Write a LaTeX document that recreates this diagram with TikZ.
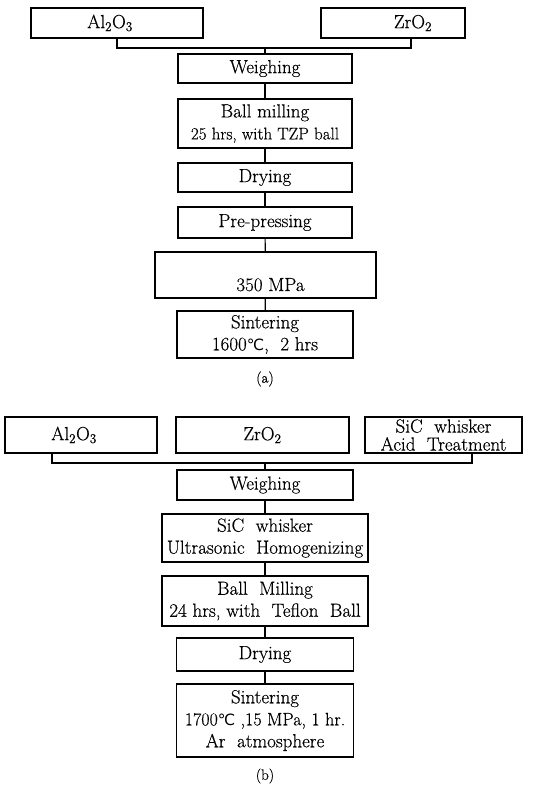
\documentclass[tikz,border=0pt]{standalone}
\usepackage{fontspec}
\setmainfont{Latin Modern Roman}[FakeBold=0.4]
\newfontfamily\symfont{DejaVu Sans}
\newcommand{\degC}{{\symfont\fontsize{15.5}{16}\selectfont ℃}}
\newcommand{\sm}{\fontsize{17}{21.5}\selectfont}
\newcommand{\md}{\fontsize{18}{21.5}\selectfont}
\begin{document}
\begin{tikzpicture}[x=1pt,y=-1pt,
  box/.style={draw,line width=1.1pt,inner sep=0pt,align=center,
    font=\fontsize{19}{22}\selectfont},
  link/.style={line width=1.1pt},
  figcap/.style={font=\fontsize{15}{17}\selectfont}]
\useasboundingbox (0,0) rectangle (533,785);
% ---------- (a) ----------
\node[box,minimum width=172,minimum height=30] (aal) at (117,23) {Al\textsubscript{2}O\textsubscript{3}\hspace*{14pt}};
\node[box,minimum width=144,minimum height=30] (azr) at (393,23) {\hspace*{40pt}ZrO\textsubscript{2}};
\node[box,minimum width=174,minimum height=29] (awe) at (265,68.5) {Weighing};
\node[box,minimum width=174,minimum height=49] (abm) at (265,123.5) {Ball\ milling\\{\sm 25 hrs, with TZP ball}};
\node[box,minimum width=174,minimum height=29] (adr) at (265,177.5) {Drying};
\node[box,minimum width=174,minimum height=31] (apr) at (265,222.5) {Pre-pressing};
\node[box,minimum width=221,minimum height=46,text height=33pt,text depth=1pt] (amp) at (265.5,275) {\hspace*{10pt}350 MPa};
\node[box,minimum width=176,minimum height=47] (asi) at (265,334.5) {Sintering\\1600\degC,\ \ 2 hrs};
\node[figcap] (alab) at (265,379) {(a)};
\coordinate (aj) at (265,48);
\draw[link] (aal.south) |- (aj) -| ([xshift=18pt]azr.south);
\draw[link] (aj) -- (awe.north);
\draw[link] (awe) -- (abm);
\draw[link] (abm) -- (adr);
\draw[link] (adr) -- (apr);
\draw[link] (apr) -- (amp);
\draw[link] (amp) -- (asi);
% ---------- (b) ----------
\node[box,minimum width=152,minimum height=36] (bal) at (81,435) {Al\textsubscript{2}O\textsubscript{3}\hspace*{14pt}};
\node[box,minimum width=173,minimum height=36] (bzr) at (262.5,435) {ZrO\textsubscript{2}};
\node[box,minimum width=157,minimum height=36] (bsi) at (443.5,435) {SiC\ \ whisker\\[-4pt]Acid\ \ Treatment};
\node[box,minimum width=176,minimum height=30] (bwe) at (265,485) {Weighing};
\node[box,minimum width=206,minimum height=48] (bus) at (265,538) {SiC\ \ whisker\\Ultrasonic\ \ Homogenizing};
\node[box,minimum width=206,minimum height=50] (bbm) at (265,601) {Ball\ \ Milling\\24 hrs,\ with\ \ Teflon\ \ Ball};
\node[box,minimum width=177,minimum height=73] (bsn) at (265,720.5) {Sintering\\{\md 1700\degC{} ,15 MPa,\ 1 hr.}\\Ar\ \ atmosphere};
\node[box,minimum width=177,minimum height=33] (bdr) at (265,654.5) {Drying};
\node[figcap] (blab) at (265,776) {(b)};
\coordinate (bj) at (265,463);
\draw[link] ([xshift=-29pt]bal.south) |- (bj) -| ([xshift=28.5pt]bsi.south);
\draw[link] (bj) -- (bwe.north);
\draw[link] (bwe) -- (bus);
\draw[link] (bus) -- (bbm);
\draw[link] (bbm) -- (bdr);
\draw[link] (bdr) -- (bsn);
\end{tikzpicture}
\end{document}
